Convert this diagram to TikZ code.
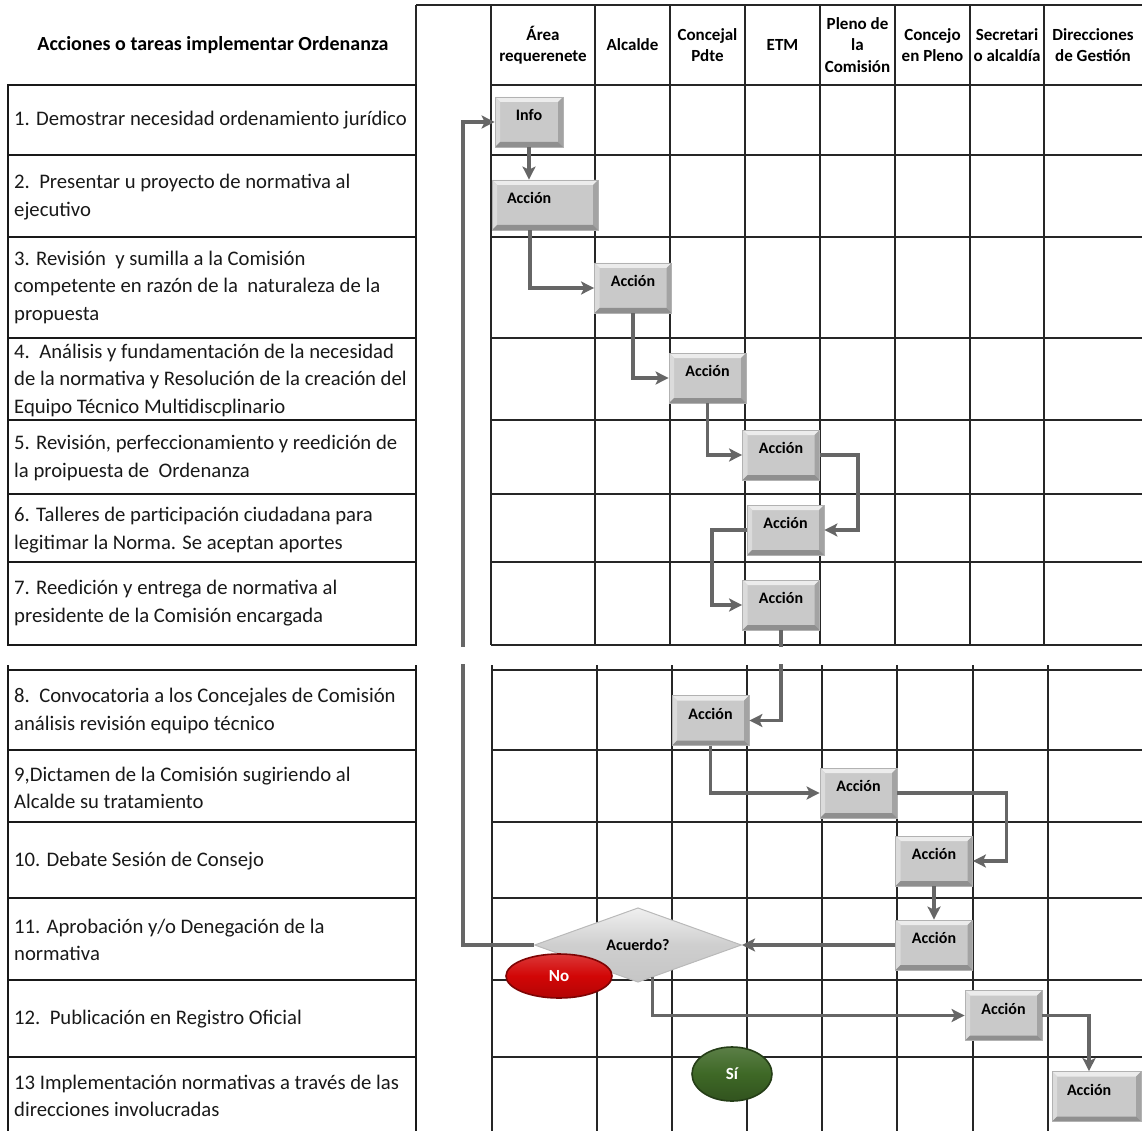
\documentclass[tikz,border=0pt]{standalone}
\usepackage{fontspec}
\setmainfont{Carlito}
\usetikzlibrary{arrows.meta, calc, shapes.geometric}

\definecolor{gris}{RGB}{102,102,102}
\definecolor{rojo}{RGB}{210,6,6}
\definecolor{verde}{RGB}{62,104,38}

\tikzset{
  rejilla/.style={line width=1.4pt, draw=black!85},
  tabla/.style={line width=2.8pt, draw=black!90},
  flecha/.style={draw=gris, line width=3.8pt,
    -{Stealth[length=13pt, width=13pt, inset=3pt]}},
  tarea/.style={anchor=west, align=left, inner sep=0pt,
    font=\fontsize{20.7}{27.5}\selectfont, text=black!90},
  cabecera/.style={align=center, inner sep=0pt,
    font=\fontsize{17}{21.5}\selectfont\bfseries},
  accion/.style={rectangle, draw=gray!60, line width=0.8pt, fill=gray!42,
    minimum width=77pt, minimum height=50pt, inner sep=0pt,
    text height=11pt, text depth=14pt,
    font=\fontsize{16}{19}\selectfont\bfseries,
    path picture={
      \path (path picture bounding box.north west) coordinate (pnw)
            (path picture bounding box.north east) coordinate (pne)
            (path picture bounding box.south east) coordinate (pse)
            (path picture bounding box.south west) coordinate (psw);
      \fill[gray!15] (pnw) -- (pne) -- ($(pne)+(-5pt,-5pt)$) -- ($(pnw)+(5pt,-5pt)$) -- cycle;
      \fill[gray!28] (pnw) -- (psw) -- ($(psw)+(5pt,5pt)$) -- ($(pnw)+(5pt,-5pt)$) -- cycle;
      \fill[gray!72] (pne) -- (pse) -- ($(pse)+(-5pt,5pt)$) -- ($(pne)+(-5pt,-5pt)$) -- cycle;
      \fill[gray!88] (psw) -- (pse) -- ($(pse)+(-5pt,5pt)$) -- ($(psw)+(5pt,5pt)$) -- cycle;
    }},
  ancha/.style={text width=#1, align=left, inner xsep=15pt},
  decision/.style={diamond, draw=gray!55, line width=1pt,
    top color=gray!12, bottom color=gray!45, middle color=gray!38,
    minimum width=207pt, minimum height=70pt, inner sep=0pt,
    font=\fontsize{16}{19}\selectfont\bfseries},
  respuesta/.style={ellipse, line width=1.6pt, inner sep=0pt, text=white,
    font=\fontsize{17}{20}\selectfont\bfseries}
}

\begin{document}
\begin{tikzpicture}[x=1pt, y=-1pt, >=Stealth]
\useasboundingbox (0,0) rectangle (1142,1131);

% rejilla superior
\draw[rejilla] (416,5) -- (1142,5);
\draw[rejilla] (416,5) -- (416,85);
\foreach \x in {491,595,670,745,820,895,970,1044}
  \draw[rejilla] (\x,5) -- (\x,645);
\foreach \y in {85,155,237,338,420,494,562,645}
  \draw[rejilla] (491,\y) -- (1142,\y);

% rejilla inferior
\foreach \x in {492,597,672,747,822,897,973,1048}
  \draw[rejilla] (\x,665) -- (\x,1131);
\foreach \y in {670,750,822,898,980,1057}
  \draw[rejilla] (492,\y) -- (1142,\y);

% tabla de tareas
\draw[tabla] (8,85) rectangle (416,645);
\foreach \y in {155,237,338,420,494,562}
  \draw[tabla] (8,\y) -- (416,\y);
\draw[tabla] (8,665) -- (8,1131);
\draw[tabla] (416,665) -- (416,1131);
\foreach \y in {670,750,822,898,980,1057}
  \draw[tabla] (8,\y) -- (416,\y);

\node[font=\fontsize{20}{24}\selectfont\bfseries] (titulo) at (213,45)
  {Acciones o tareas implementar Ordenanza};

\foreach \idx/\yc/\txt in {
  1/120/{1. Demostrar necesidad ordenamiento jurídico},
  2/197/{2.~~Presentar u proyecto de normativa al\\ejecutivo},
  3/287/{3. Revisión~~y sumilla a la Comisión\\competente en razón de la~~naturaleza de la\\propuesta},
  4/380/{4.~~Análisis y fundamentación de la necesidad\\de la normativa y Resolución de la creación del\\Equipo Técnico Multidiscplinario},
  5/458/{5. Revisión, perfeccionamiento y reedición de\\la proipuesta de~~Ordenanza},
  6/530/{6. Talleres de participación ciudadana para\\legitimar la Norma. Se aceptan aportes},
  7/603/{7. Reedición y entrega de normativa al\\presidente de la Comisión encargada},
  8/711/{8.~~Convocatoria a los Concejales de Comisión\\análisis revisión equipo técnico},
  9/788/{9,Dictamen de la Comisión sugiriendo al\\Alcalde su tratamiento},
  10/861/{10. Debate Sesión de Consejo},
  11/940/{11. Aprobación y/o Denegación de la\\normativa},
  12/1019/{12.~~Publicación en Registro Oficial},
  13/1096/{13 Implementación normativas a través de las\\direcciones involucradas}%
}{
  \node[tarea] (tarea\idx) at (14,\yc) {\txt};
}

% columnas
\foreach \idx/\xc/\lab in {
  1/543/{Área\\requerenete},
  2/632.5/{Alcalde},
  3/707.5/{Concejal\\Pdte},
  4/782.5/{ETM},
  5/857.5/{Pleno de\\la\\Comisión},
  6/932.5/{Concejo\\en Pleno},
  7/1007/{Secretari\\o alcaldía},
  8/1093/{Direcciones\\de Gestión}%
}{
  \node[cabecera] (col\idx) at (\xc,45) {\lab};
}

% acciones
\node[accion, minimum width=68pt] (info) at (529,122) {Info};
\node[accion, ancha=76pt] (acc1) at (545,205) {Acción};
\node[accion] (acc2) at (633,288) {Acción};
\node[accion] (acc3) at (707.5,378) {Acción};
\node[accion] (acc4) at (781,455) {Acción};
\node[accion] (acc5) at (785.5,530) {Acción};
\node[accion] (acc6) at (781,605) {Acción};
\node[accion] (acc7) at (710.5,720.5) {Acción};
\node[accion] (acc8) at (858.5,793) {Acción};
\node[accion] (acc9) at (934,861) {Acción};
\node[accion] (acc10) at (934,945) {Acción};
\node[accion] (acc11) at (1003.5,1015.5) {Acción};
\node[accion, ancha=59pt] (acc12) at (1096.5,1096.5) {Acción};

\node[decision] (acuerdo) at (638,945) {Acuerdo?};
\node[respuesta, draw=rojo!60!black, top color=rojo!80!white, bottom color=rojo!85!black,
      middle color=rojo, minimum width=106pt, minimum height=44pt] (no) at (559,976) {No};
\node[respuesta, draw=verde!60!black, top color=verde!85!white, bottom color=verde!80!black,
      middle color=verde, minimum width=80pt, minimum height=54pt] (si) at (732,1074) {Sí};

% conectores
\draw[flecha] (info.south) -- (info.south |- acc1.north);
\draw[flecha] ([xshift=-15pt]acc1.south) |- (acc2);
\draw[flecha] (acc2) |- (acc3);
\draw[flecha] (acc3) |- (acc4);
\draw[flecha] (acc4.east) -- ++(38,0) |- (acc5.east);
\draw[flecha] (acc5.west) -- ++(-35,0) |- (acc6.west);
\draw[flecha] (acc6) |- (acc7);
\draw[flecha] (acc7) |- (acc8);
\draw[flecha] (acc8.east) -- ++(109,0) |- (acc9.east);
\draw[flecha] (acc9) -- (acc10);
\draw[flecha] (acc10.west) -- (acuerdo.east);
\draw[flecha] (acuerdo.west) -- ++(-71,0) |- (info.west);
\draw[flecha] ($(acuerdo.south)!0.14!(acuerdo.east)$) |- (acc11.west);
\draw[flecha] (acc11.east) -| ([xshift=-7.5pt]acc12.north);

% salto de pagina
\fill[white] (420,647) rectangle (1142,664);

\end{tikzpicture}
\end{document}
